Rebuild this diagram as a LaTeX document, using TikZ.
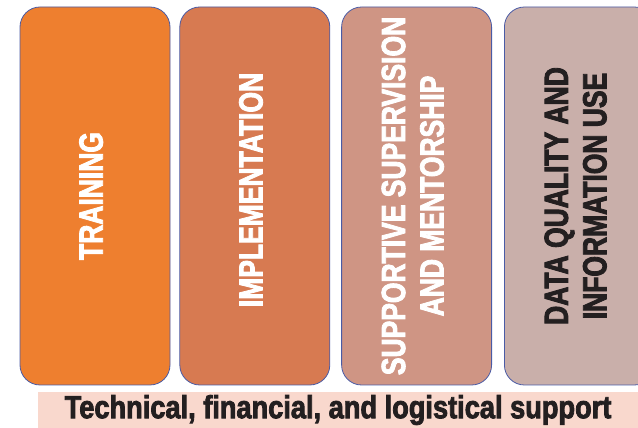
\documentclass[tikz,border=0pt]{standalone}
\usepackage{fontspec}
\usepackage{graphicx}
\usepackage{xcolor}
\newfontfamily\condbold{Liberation Sans}[UprightFont=*-Bold, FakeStretch=0.79, FakeBold=2.5]
\newfontfamily\bandbold{Liberation Sans}[UprightFont=*-Bold, FakeStretch=0.85, FakeBold=2.5]
\usepackage{tikz}
\usetikzlibrary{positioning}

\definecolor{trainorange}{HTML}{EE7F2F}
\definecolor{implorange}{HTML}{D77A51}
\definecolor{supervpink}{HTML}{CF9584}
\definecolor{datamauve}{HTML}{C9AFAA}
\definecolor{bandpink}{HTML}{F9D8CD}
\definecolor{edgeblue}{HTML}{4A5BA5}
\definecolor{textdark}{HTML}{231F20}

\newcommand{\pillartext}[1]{\rotatebox{90}{\begin{tabular}{@{}c@{}}#1\end{tabular}}}

\begin{document}
\begin{tikzpicture}[
    x=1pt, y=1pt,
    pillar/.style={rectangle, rounded corners=20pt, draw=edgeblue, line width=0.8pt,
                   minimum width=150pt, minimum height=378pt, inner sep=0pt,
                   font=\condbold\fontsize{33.5}{38.5}\selectfont, text=white},
    band/.style={rectangle, fill=bandpink, minimum width=600pt, minimum height=36pt,
                 inner sep=0pt, font=\bandbold\fontsize{32}{36}\selectfont, text=textdark}
]
\useasboundingbox (0,0) rectangle (638,428);

% Pillars
\node[pillar, fill=trainorange] (training) at (95,232) {\pillartext{TRAINING}};
\node[pillar, fill=implorange, right=9pt of training] (implementation) {\raisebox{12pt}{\pillartext{IMPLEMENTATION}}};
\node[pillar, fill=supervpink, right=11pt of implementation] (supervision) {\pillartext{SUPPORTIVE SUPERVISION\\AND MENTORSHIP}};
\node[pillar, fill=datamauve, text=textdark, right=12pt of supervision] (dataquality) {\pillartext{DATA QUALITY AND\\INFORMATION USE}};

% Support band
\node[band] (support) at (338,18) {Technical, financial, and logistical support};

\end{tikzpicture}
\end{document}
